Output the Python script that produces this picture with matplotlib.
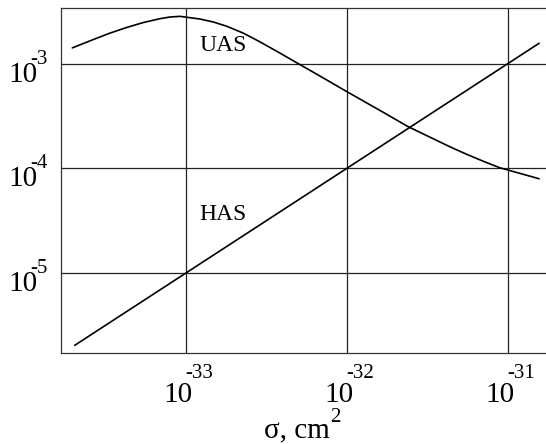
import matplotlib
matplotlib.use("Agg")
import matplotlib.pyplot as plt

# ---- data ----
sigma_uas = [1.97e-34, 2.65e-34, 3.37e-34, 4.29e-34, 5.43e-34, 6.90e-34, 7.96e-34,
             9.18e-34, 1.22e-33, 1.48e-33, 1.79e-33, 2.27e-33, 2.88e-33, 3.66e-33,
             4.65e-33, 5.89e-33, 7.48e-33, 9.48e-33, 1.205e-32, 1.68e-32, 2.38e-32,
             3.44e-32, 4.37e-32, 5.53e-32, 7.08e-32, 8.91e-32, 1.56e-31]
uas = [1.41e-3, 1.69e-3, 1.95e-3, 2.21e-3, 2.46e-3, 2.68e-3, 2.78e-3,
       2.82e-3, 2.66e-3, 2.49e-3, 2.27e-3, 1.95e-3, 1.61e-3, 1.31e-3,
       1.06e-3, 8.61e-4, 6.97e-4, 5.64e-4, 4.57e-4, 3.42e-4, 2.51e-4,
       1.91e-4, 1.60e-4, 1.36e-4, 1.16e-4, 1.01e-4, 7.94e-5]
sigma_has = [2.04e-34, 1.56e-31]
has = [2.04e-6, 1.56e-3]

x_tick_exps = [-33, -32, -31]
y_tick_exps = [-5, -4, -3]
xlabel_main = "σ, cm"
xlabel_sup = "2"
curve_labels = ["UAS", "HAS"]
label_pos = [(1.70e-33, 1.47e-3), (1.70e-33, 3.58e-5)]

FONT = "Liberation Serif"
plt.rcParams["font.family"] = [FONT, "DejaVu Serif"]

fig = plt.figure(figsize=(5.46, 4.44), dpi=100)
ax = fig.add_axes([61 / 546, 1 - 353 / 444, 1 - 61 / 546, (353 - 8) / 444])
ax.set_xscale("log")
ax.set_yscale("log")
ax.set_xlim(10 ** -33.776, 10 ** -30.764)
ax.set_ylim(10 ** -5.764, 10 ** -2.47)

ax.plot(sigma_uas, uas, color="black", lw=1.2, solid_capstyle="round",
        solid_joinstyle="round")
ax.plot(sigma_has, has, color="black", lw=1.2, solid_capstyle="round")

xt = [10.0 ** e for e in x_tick_exps]
yt = [10.0 ** e for e in y_tick_exps]
ax.set_xticks(xt)
ax.set_yticks(yt)
ax.minorticks_off()
ax.set_xticklabels([])
ax.set_yticklabels([])
ax.tick_params(length=0)
ax.grid(True, color="#222222", lw=0.9)

for sp in ["left", "bottom", "top"]:
    ax.spines[sp].set_color("#333333")
    ax.spines[sp].set_linewidth(0.9)
ax.spines["right"].set_visible(False)

px = 0.72  # points per pixel

# x tick labels
for v, e in zip(xt, x_tick_exps):
    ax.annotate("10", xy=(v, 0), xycoords=("data", "axes fraction"),
                xytext=(7 * px, -49 * px), textcoords="offset points",
                ha="right", va="baseline", fontsize=21, family=FONT)
    ax.annotate(str(e), xy=(v, 0), xycoords=("data", "axes fraction"),
                xytext=(-1 * px, -25 * px), textcoords="offset points",
                ha="left", va="baseline", fontsize=15, family=FONT)

# y tick labels
for v, e in zip(yt, y_tick_exps):
    ax.annotate("10", xy=(0, v), xycoords=("axes fraction", "data"),
                xytext=(-23.7 * px, -18 * px), textcoords="offset points",
                ha="right", va="baseline", fontsize=21, family=FONT)
    ax.annotate(str(e), xy=(0, v), xycoords=("axes fraction", "data"),
                xytext=(-31 * px, 0), textcoords="offset points",
                ha="left", va="baseline", fontsize=15, family=FONT)

# x label
fig.text(330 / 546, 1 - 438 / 444, xlabel_main, ha="right", va="baseline",
         fontsize=21, family=FONT)
fig.text(330 / 546, 1 - 422 / 444, xlabel_sup, ha="left", va="baseline",
         fontsize=15, family=FONT)

# curve labels
for t, (xv, yv) in zip(curve_labels, label_pos):
    ax.text(xv, yv, t, ha="center", va="center", fontsize=17, family=FONT)

fig.savefig("out.png", dpi=100)
